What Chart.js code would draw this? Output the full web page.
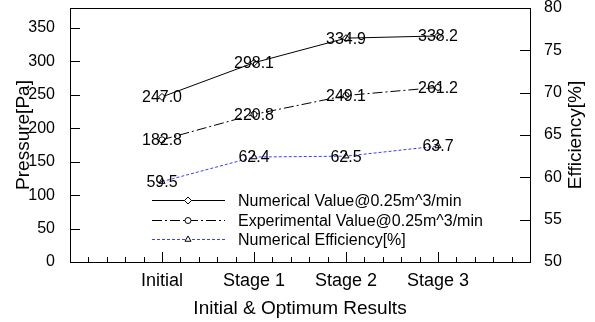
<!DOCTYPE html>
<html>
<head>
<meta charset="utf-8">
<script src="https://cdn.jsdelivr.net/npm/chart.js@4.4.1/dist/chart.umd.min.js"></script>
<style>
html, body { margin: 0; padding: 0; background: #fff; }
#wrap { width: 595px; height: 322px; }
</style>
</head>
<body>
<div id="wrap"><canvas id="graficoEtapas"></canvas></div>
<script>
const etapas = ['Initial', 'Stage 1', 'Stage 2', 'Stage 3'];
const presionNumerica = [247.0, 298.1, 334.9, 338.2];
const presionExperimental = [182.8, 220.8, 249.1, 261.2];
const eficienciaNumerica = [59.5, 62.4, 62.5, 63.7];
const nombres = ['Numerical Value@0.25m^3/min', 'Experimental Value@0.25m^3/min', 'Numerical Efficiency[%]'];

const fuente = "'Liberation Sans', Arial, sans-serif";
Chart.defaults.font.family = fuente;
Chart.defaults.color = '#000';

const aPuntos = arr => arr.map((v, i) => ({ x: i + 1, y: v }));
const esEntero = v => Math.abs(v - Math.round(v)) < 1e-6;

// marco, marcas hacia dentro, etiquetas de valores, leyenda y titulo derecho
const extras = {
  id: 'extras',
  afterDatasetsDraw(chart) {
    const ctx = chart.ctx;
    const area = chart.chartArea;
    const sx = chart.scales.x, sy = chart.scales.y, sy1 = chart.scales.y1;
    ctx.save();
    ctx.strokeStyle = '#000';
    ctx.lineWidth = 1;
    ctx.setLineDash([]);
    ctx.strokeRect(Math.round(area.left) + 0.5, Math.round(area.top) + 0.5,
      Math.round(area.right - area.left), Math.round(area.bottom - area.top));

    ctx.beginPath();
    sx.ticks.forEach(t => {
      const px = Math.round(sx.getPixelForValue(t.value)) + 0.5;
      const len = esEntero(t.value) ? 10 : 5;
      ctx.moveTo(px, area.bottom);
      ctx.lineTo(px, area.bottom - len);
    });
    sy.ticks.forEach(t => {
      const py = Math.round(sy.getPixelForValue(t.value)) + 0.5;
      ctx.moveTo(area.left, py);
      ctx.lineTo(area.left + 10, py);
    });
    sy1.ticks.forEach(t => {
      const py = Math.round(sy1.getPixelForValue(t.value)) + 0.5;
      ctx.moveTo(area.right, py);
      ctx.lineTo(area.right - 10, py);
    });
    ctx.stroke();

    // etiquetas
    ctx.fillStyle = '#000';
    ctx.font = '16px ' + fuente;
    ctx.textAlign = 'center';
    ctx.textBaseline = 'middle';
    chart.data.datasets.forEach((ds, i) => {
      const meta = chart.getDatasetMeta(i);
      meta.data.forEach((p, j) => {
        ctx.fillText(ds.data[j].y.toFixed(1), p.x, p.y + 1);
      });
    });

    // leyenda
    const x0 = area.left + 82;
    const y0 = area.top + 192;
    chart.data.datasets.forEach((ds, i) => {
      const y = Math.round(y0 + i * 19.5) + 0.5;
      ctx.strokeStyle = ds.borderColor;
      ctx.lineWidth = 1;
      ctx.setLineDash(ds.borderDash || []);
      ctx.beginPath();
      ctx.moveTo(x0, y);
      ctx.lineTo(x0 + 73, y);
      ctx.stroke();
      ctx.setLineDash([]);
      ctx.strokeStyle = '#000';
      ctx.fillStyle = '#fff';
      Chart.helpers.drawPoint(ctx, { pointStyle: ds.pointStyle, radius: ds.pointRadius, borderWidth: 1, rotation: 0 }, x0 + 36, y);
      ctx.fillStyle = '#000';
      ctx.textAlign = 'left';
      ctx.fillText(ds.label, x0 + 86, y + 1);
    });

    // titulo del eje derecho, leido de abajo hacia arriba
    ctx.font = '19px ' + fuente;
    ctx.textAlign = 'center';
    ctx.translate(area.right + 46, (area.top + area.bottom) / 2);
    ctx.rotate(-Math.PI / 2);
    ctx.fillText('Efficiency[%]', 0, 0);
    ctx.restore();
  }
};

const sinRelleno = s => { s.paddingTop = 0; s.paddingBottom = 0; };

new Chart(document.getElementById('graficoEtapas'), {
  type: 'line',
  data: {
    datasets: [{
      label: nombres[0],
      data: aPuntos(presionNumerica),
      yAxisID: 'y',
      borderColor: '#000',
      borderWidth: 1,
      pointStyle: 'rectRot',
      pointRadius: 3.5,
      pointBackgroundColor: '#fff',
      pointBorderColor: '#000',
      pointBorderWidth: 1
    }, {
      label: nombres[1],
      data: aPuntos(presionExperimental),
      yAxisID: 'y',
      borderColor: '#000',
      borderWidth: 1,
      borderDash: [10, 3, 2, 3],
      pointStyle: 'circle',
      pointRadius: 3,
      pointBackgroundColor: '#fff',
      pointBorderColor: '#000',
      pointBorderWidth: 1
    }, {
      label: nombres[2],
      data: aPuntos(eficienciaNumerica),
      yAxisID: 'y1',
      borderColor: '#3c3cff',
      borderWidth: 1,
      borderDash: [3, 2],
      pointStyle: 'triangle',
      pointRadius: 3.5,
      pointBackgroundColor: '#fff',
      pointBorderColor: '#000',
      pointBorderWidth: 1
    }]
  },
  options: {
    responsive: true,
    maintainAspectRatio: false,
    animation: false,
    layout: { padding: { top: 8, left: 0, right: 0, bottom: 0 } },
    plugins: { legend: { display: false }, tooltip: { enabled: false } },
    scales: {
      x: {
        type: 'linear',
        min: 0,
        max: 5,
        grid: { display: false },
        border: { display: false },
        ticks: {
          stepSize: 0.2,
          autoSkip: false,
          maxRotation: 0,
          padding: 0,
          font: { size: 18 },
          callback: v => (esEntero(v) && v >= 1 && v <= 4) ? etapas[Math.round(v) - 1] : ''
        },
        title: { display: true, text: 'Initial & Optimum Results', font: { size: 19 }, padding: { top: 0, bottom: 2 } },
        afterFit: s => { s.height = 60; s.paddingLeft = 0; s.paddingRight = 0; }
      },
      y: {
        position: 'left',
        min: 0,
        max: 380,
        grid: { display: false },
        border: { display: false },
        ticks: { stepSize: 50, includeBounds: false, padding: 7, font: { size: 16 } },
        title: { display: true, text: 'Pressure[Pa]', font: { size: 19 }, padding: { top: 12, bottom: 0 } },
        afterFit: s => { s.width = 70; sinRelleno(s); }
      },
      y1: {
        position: 'right',
        min: 50,
        max: 80,
        grid: { display: false },
        border: { display: false },
        ticks: { stepSize: 5, padding: 6, font: { size: 16 } },
        title: { display: false },
        afterFit: s => { s.width = 65; sinRelleno(s); }
      }
    }
  },
  plugins: [extras]
});
</script>
</body>
</html>
